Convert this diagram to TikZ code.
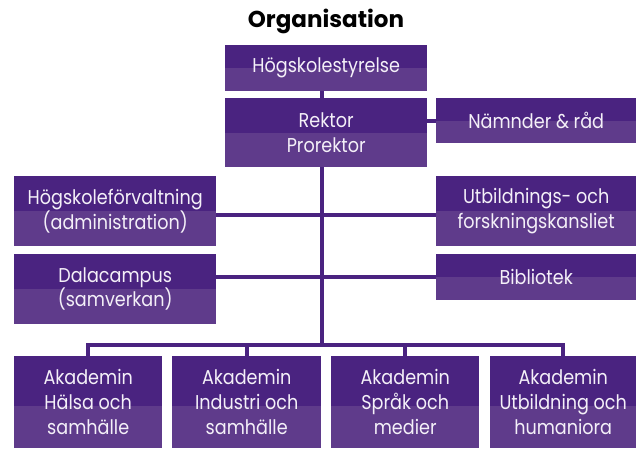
\documentclass[tikz,border=0pt]{standalone}
\usepackage{fontspec}
\usetikzlibrary{calc}
\newfontfamily\boxfont[FakeStretch=0.88]{Poppins}
\newfontfamily\titlefont{Poppins Bold}
\definecolor{pdark}{HTML}{4A2380}
\definecolor{plight}{HTML}{5F3B8B}
\definecolor{ptext}{HTML}{F4F0F8}
\tikzset{
  orgbox/.style={anchor=north west, inner sep=0pt, align=center, text=ptext,
    fill=plight, font=\boxfont\fontsize{20}{24.5}\selectfont,
    path picture={\fill[pdark] (path picture bounding box.north west) rectangle (path picture bounding box.east);}},
  acadbox/.style={anchor=north west, inner sep=0pt, align=center, text=ptext,
    fill=plight, font=\boxfont\fontsize{20}{25}\selectfont,
    path picture={\fill[pdark] (path picture bounding box.north west) rectangle ($(path picture bounding box.east)+(0,4)$);}},
  conn/.style={draw=pdark, line width=3.8pt}
}
\begin{document}
\begin{tikzpicture}[x=1pt,y=-1pt]
\useasboundingbox (0,0) rectangle (636,449);
\node[font=\titlefont\fontsize{23}{26}\selectfont, anchor=base] (title) at (326,28) {Organisation};

\node[orgbox, minimum width=202pt, minimum height=46pt] (hs) at (225,45) {Högskolestyrelse};
\node[orgbox, minimum width=202pt, minimum height=69pt] (rk) at (225,98) {Rektor\\Prorektor};
\node[orgbox, minimum width=200pt, minimum height=45pt] (nr) at (436,98) {Nämnder \& råd};
\node[orgbox, minimum width=202pt, minimum height=70pt] (hf) at (14,176) {Högskoleförvaltning\\(administration)};
\node[orgbox, minimum width=202pt, minimum height=70pt] (dc) at (14,254) {Dalacampus\\(samverkan)};
\node[orgbox, minimum width=200pt, minimum height=70pt] (uf) at (436,176) {Utbildnings- och\\forskningskansliet};
\node[orgbox, minimum width=200pt, minimum height=46pt] (bi) at (436,254) {Bibliotek};

\node[acadbox, minimum width=148pt, minimum height=92pt] (a1) at (14,356) {Akademin\\Hälsa och\\samhälle};
\node[acadbox, minimum width=149pt, minimum height=92pt] (a2) at (172,356) {Akademin\\Industri och\\samhälle};
\node[acadbox, minimum width=148pt, minimum height=92pt] (a3) at (331,356) {Akademin\\Språk och\\medier};
\node[acadbox, minimum width=146pt, minimum height=92pt] (a4) at (490,356) {Akademin\\Utbildning och\\humaniora};

\coordinate (trunk) at (322,0);
\coordinate (bus) at (0,345);

\draw[conn] (hs.south -| trunk) -- (rk.north -| trunk);
\draw[conn] (rk.south -| trunk) -- (bus -| trunk);
\draw[conn] (rk.east |- nr.west) -- (nr.west);
\draw[conn] (hf.east |- 0,215) -- (uf.west |- 0,215);
\draw[conn] (dc.east |- 0,277) -- (bi.west |- 0,277);
\draw[conn] (a1.north |- bus) -- (a1.north);
\draw[conn] (a2.north |- bus) -- (a2.north);
\draw[conn] (a3.north |- bus) -- (a3.north);
\draw[conn] (a4.north |- bus) -- (a4.north);
\draw[conn, line cap=rect] (a1.north |- bus) -- (a4.north |- bus);
\end{tikzpicture}
\end{document}
